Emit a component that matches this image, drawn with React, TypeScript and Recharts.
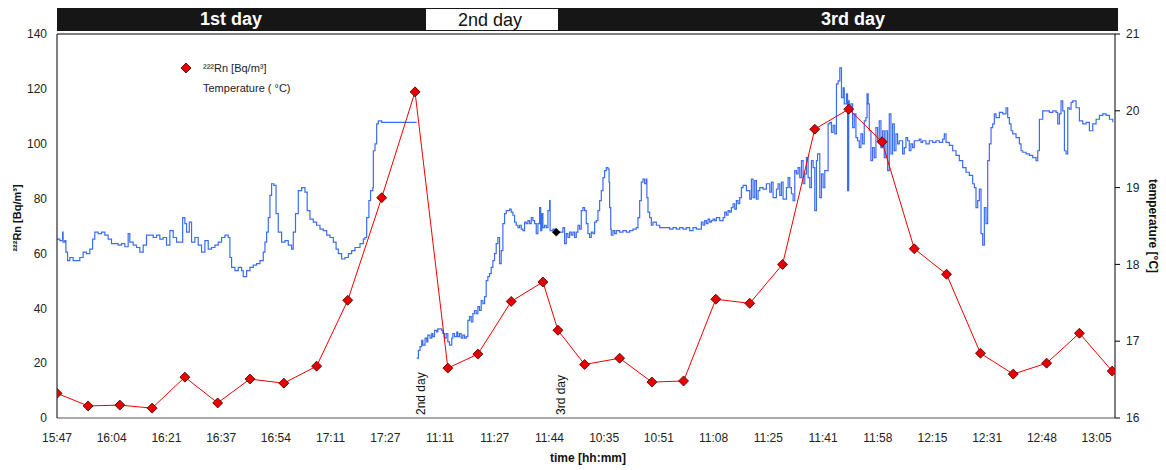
import React from 'react';
import { ComposedChart, Line, XAxis, YAxis, ReferenceLine } from 'recharts';

const FONT = '"Liberation Sans", Arial, sans-serif';

const xTickLabels = ['15:47', '16:04', '16:21', '16:37', '16:54', '17:11', '17:27', '11:11', '11:27', '11:44', '10:35', '10:51', '11:08', '11:25', '11:41', '11:58', '12:15', '12:31', '12:48', '13:05'];
const xTickPositions = [0, 0.984, 1.968, 2.953, 3.937, 4.921, 5.905, 6.889, 7.873, 8.858, 9.842, 10.826, 11.81, 12.794, 13.779, 14.763, 15.747, 16.731, 17.715, 18.699];
const xDomain = [0, 19.03];

const leftTicks = [0, 20, 40, 60, 80, 100, 120, 140];
const rightTicks = [16, 17, 18, 19, 20, 21];

const dayBanner = [
  { label: '1st day', dark: true },
  { label: '2nd day', dark: false },
  { label: '3rd day', dark: true },
];
const dayMarks = [
  { x: 6.54, label: '2nd day' },
  { x: 9.06, label: '3rd day' },
];

const rnTime = [0, 0.56, 1.13, 1.71, 2.3, 2.89, 3.47, 4.08, 4.67, 5.23, 5.84, 6.44, 7.03, 7.57, 8.17, 8.74, 9.01, 9.49, 10.12, 10.7, 11.27, 11.85, 12.46, 13.05, 13.63, 14.24, 14.84, 15.42, 16.0, 16.61, 17.2, 17.8, 18.39, 18.98];
const rnValues = [9, 4.4, 4.7, 3.6, 14.9, 5.5, 14.2, 12.7, 18.9, 42.9, 80.3, 118.9, 18.2, 23.3, 42.5, 49.6, 32, 19.5, 21.8, 13.1, 13.5, 43.3, 41.8, 56, 105.3, 112.6, 100.7, 61.7, 52.4, 23.6, 16, 20, 30.9, 17.1];

const tempDay1: [number, number][] = [
  [0.0, 18.33], [0.05, 18.31], [0.1, 18.42], [0.11, 18.29], [0.14, 18.31], [0.16, 18.16], [0.19, 18.05], [0.23, 18.09],
  [0.29, 18.05], [0.35, 18.05], [0.41, 18.09], [0.47, 18.16], [0.53, 18.14], [0.59, 18.2], [0.64, 18.33], [0.68, 18.42],
  [0.74, 18.4], [0.8, 18.42], [0.86, 18.38], [0.92, 18.33], [0.98, 18.27], [1.04, 18.27], [1.1, 18.25], [1.16, 18.27],
  [1.22, 18.23], [1.28, 18.4], [1.31, 18.29], [1.37, 18.25], [1.43, 18.22], [1.49, 18.16], [1.55, 18.25], [1.61, 18.38],
  [1.67, 18.38], [1.73, 18.35], [1.79, 18.38], [1.85, 18.33], [1.91, 18.35], [1.97, 18.25], [2.03, 18.44], [2.09, 18.35],
  [2.15, 18.29], [2.21, 18.29], [2.26, 18.61], [2.3, 18.53], [2.33, 18.42], [2.38, 18.55], [2.42, 18.29], [2.48, 18.35],
  [2.54, 18.25], [2.6, 18.16], [2.66, 18.31], [2.72, 18.2], [2.78, 18.22], [2.84, 18.25], [2.9, 18.29], [2.96, 18.35],
  [3.02, 18.38], [3.08, 18.35], [3.11, 18.09], [3.14, 17.96], [3.2, 17.92], [3.26, 17.96], [3.32, 17.92], [3.35, 17.84],
  [3.41, 17.92], [3.47, 17.96], [3.53, 17.99], [3.59, 18.01], [3.65, 18.05], [3.71, 18.16], [3.74, 18.29], [3.77, 18.42],
  [3.8, 18.61], [3.83, 18.9], [3.86, 19.05], [3.9, 19.03], [3.94, 18.66], [3.98, 18.42], [4.04, 18.29], [4.1, 18.31],
  [4.16, 18.25], [4.22, 18.2], [4.25, 18.42], [4.29, 18.66], [4.34, 18.96], [4.4, 19.0], [4.46, 18.94], [4.5, 18.7],
  [4.55, 18.59], [4.61, 18.55], [4.67, 18.51], [4.73, 18.46], [4.79, 18.44], [4.85, 18.38], [4.91, 18.35], [4.97, 18.29],
  [5.02, 18.2], [5.06, 18.14], [5.12, 18.07], [5.18, 18.09], [5.24, 18.14], [5.3, 18.18], [5.36, 18.22], [5.45, 18.27],
  [5.51, 18.33], [5.54, 18.35], [5.57, 18.61], [5.61, 18.83], [5.64, 18.96], [5.68, 19.0], [5.69, 19.48], [5.72, 19.57],
  [5.75, 19.83], [5.78, 19.87], [5.84, 19.85], [5.9, 19.85], [6.47, 19.85],
];

const tempDay23: [number, number][] = [
  [6.47, 16.78], [6.5, 16.88], [6.53, 16.93], [6.56, 17.01], [6.58, 16.95], [6.62, 17.04], [6.65, 16.99], [6.67, 17.08],
  [6.71, 17.04], [6.74, 17.1], [6.76, 17.06], [6.79, 17.14], [6.83, 17.12], [6.85, 17.16], [6.92, 17.14], [6.94, 17.1],
  [6.97, 17.04], [7.0, 17.1], [7.03, 16.99], [7.06, 16.95], [7.1, 17.04], [7.12, 17.1], [7.15, 17.06], [7.19, 17.12],
  [7.21, 17.06], [7.24, 17.1], [7.27, 17.04], [7.3, 17.08], [7.33, 17.04], [7.36, 17.06], [7.39, 17.27], [7.42, 17.32],
  [7.45, 17.25], [7.48, 17.36], [7.51, 17.4], [7.54, 17.36], [7.57, 17.45], [7.6, 17.4], [7.63, 17.53], [7.66, 17.49],
  [7.69, 17.58], [7.72, 17.79], [7.75, 17.84], [7.78, 17.88], [7.81, 17.96], [7.84, 18.05], [7.87, 18.14], [7.9, 18.27],
  [7.93, 18.35], [7.96, 18.01], [7.99, 18.18], [8.02, 18.53], [8.05, 18.66], [8.08, 18.7], [8.14, 18.72], [8.17, 18.68],
  [8.2, 18.64], [8.23, 18.55], [8.26, 18.51], [8.29, 18.48], [8.32, 18.51], [8.35, 18.46], [8.38, 18.44], [8.41, 18.55],
  [8.44, 18.53], [8.47, 18.57], [8.5, 18.53], [8.53, 18.61], [8.56, 18.57], [8.59, 18.53], [8.62, 18.4], [8.65, 18.53],
  [8.68, 18.74], [8.7, 18.44], [8.72, 18.66], [8.74, 18.48], [8.77, 18.51], [8.8, 18.48], [8.83, 18.7], [8.86, 18.83],
  [8.87, 18.44], [8.92, 18.46], [8.98, 18.42], [9.04, 18.42], [9.1, 18.48], [9.13, 18.27], [9.16, 18.4], [9.19, 18.35],
  [9.22, 18.42], [9.25, 18.38], [9.28, 18.42], [9.31, 18.35], [9.34, 18.42], [9.37, 18.51], [9.4, 18.46], [9.43, 18.7],
  [9.46, 18.74], [9.49, 18.7], [9.52, 18.53], [9.55, 18.4], [9.58, 18.35], [9.61, 18.42], [9.64, 18.4], [9.67, 18.55],
  [9.7, 18.57], [9.73, 18.7], [9.76, 18.83], [9.79, 18.96], [9.82, 19.13], [9.85, 19.22], [9.88, 19.26], [9.91, 19.24],
  [9.93, 19.07], [9.94, 18.74], [9.96, 18.46], [9.97, 18.38], [10.0, 18.44], [10.03, 18.4], [10.06, 18.44], [10.12, 18.42],
  [10.18, 18.44], [10.24, 18.42], [10.3, 18.44], [10.36, 18.46], [10.42, 18.48], [10.45, 18.61], [10.48, 18.83], [10.51, 19.07],
  [10.54, 19.11], [10.57, 19.05], [10.6, 19.11], [10.61, 18.87], [10.63, 18.68], [10.66, 18.61], [10.69, 18.51], [10.72, 18.55],
  [10.78, 18.51], [10.84, 18.48], [10.9, 18.48], [10.96, 18.48], [11.02, 18.46], [11.08, 18.48], [11.14, 18.46], [11.2, 18.48],
  [11.26, 18.46], [11.32, 18.48], [11.38, 18.44], [11.44, 18.48], [11.5, 18.46], [11.56, 18.46], [11.59, 18.55], [11.62, 18.51],
  [11.65, 18.57], [11.68, 18.53], [11.71, 18.59], [11.74, 18.55], [11.77, 18.57], [11.8, 18.59], [11.83, 18.57], [11.86, 18.61],
  [11.92, 18.57], [11.98, 18.61], [12.01, 18.68], [12.04, 18.64], [12.07, 18.7], [12.1, 18.68], [12.13, 18.74], [12.16, 18.79],
  [12.19, 18.72], [12.22, 18.83], [12.25, 18.79], [12.28, 18.87], [12.31, 19.0], [12.34, 19.03], [12.4, 18.96], [12.46, 18.85],
  [12.49, 19.11], [12.52, 18.87], [12.55, 19.09], [12.58, 18.85], [12.61, 18.96], [12.64, 19.0], [12.7, 18.98], [12.76, 19.05],
  [12.82, 18.94], [12.85, 19.07], [12.88, 18.87], [12.94, 18.98], [12.97, 19.05], [13.0, 18.9], [13.03, 19.07], [13.06, 18.85],
  [13.12, 19.0], [13.15, 19.13], [13.18, 19.0], [13.21, 18.92], [13.24, 18.83], [13.27, 19.22], [13.3, 19.18], [13.33, 19.26],
  [13.36, 19.13], [13.39, 19.35], [13.42, 19.05], [13.45, 19.18], [13.48, 19.39], [13.51, 19.13], [13.54, 19.0], [13.57, 19.35],
  [13.6, 19.26], [13.63, 18.7], [13.66, 19.35], [13.68, 19.44], [13.72, 18.87], [13.75, 19.18], [13.78, 19.0], [13.81, 19.22],
  [13.84, 19.22], [13.87, 19.83], [13.9, 19.85], [13.93, 19.72], [13.96, 19.81], [13.99, 19.7], [14.02, 20.35], [14.05, 20.39],
  [14.08, 20.56], [14.11, 20.17], [14.14, 20.3], [14.16, 20.09], [14.2, 20.22], [14.22, 18.96], [14.24, 20.13], [14.25, 20.04],
  [14.28, 20.09], [14.31, 19.78], [14.34, 19.96], [14.37, 19.65], [14.4, 19.61], [14.43, 19.52], [14.46, 19.7], [14.49, 19.57],
  [14.52, 19.87], [14.55, 19.91], [14.57, 20.22], [14.59, 20.09], [14.61, 19.74], [14.64, 19.35], [14.67, 19.52], [14.7, 19.39],
  [14.73, 19.78], [14.76, 19.61], [14.79, 19.87], [14.82, 19.52], [14.85, 19.74], [14.88, 19.39], [14.91, 19.74], [14.94, 19.22],
  [14.97, 19.96], [15.0, 19.44], [15.03, 19.83], [15.06, 19.48], [15.09, 19.7], [15.12, 19.57], [15.15, 19.61], [15.21, 19.44],
  [15.24, 19.52], [15.27, 19.65], [15.3, 19.61], [15.33, 19.48], [15.36, 19.57], [15.39, 19.52], [15.42, 19.61], [15.45, 19.61],
  [15.51, 19.63], [15.54, 19.59], [15.57, 19.61], [15.63, 19.57], [15.69, 19.61], [15.75, 19.59], [15.81, 19.61], [15.87, 19.59],
  [15.93, 19.63], [15.96, 19.7], [15.99, 19.59], [16.05, 19.55], [16.11, 19.48], [16.17, 19.42], [16.23, 19.35], [16.29, 19.26],
  [16.35, 19.2], [16.41, 19.16], [16.47, 19.05], [16.5, 19.0], [16.53, 18.74], [16.56, 18.83], [16.59, 18.98], [16.62, 18.4],
  [16.65, 18.25], [16.68, 18.74], [16.71, 18.53], [16.74, 19.35], [16.77, 19.57], [16.8, 19.78], [16.83, 19.83], [16.86, 19.96],
  [16.89, 19.91], [16.95, 19.98], [17.01, 19.96], [17.07, 20.04], [17.1, 19.91], [17.13, 19.83], [17.16, 19.74], [17.19, 19.7],
  [17.25, 19.65], [17.31, 19.57], [17.34, 19.48], [17.37, 19.46], [17.43, 19.44], [17.49, 19.42], [17.55, 19.39], [17.61, 19.35],
  [17.64, 19.48], [17.67, 19.89], [17.73, 20.0], [17.79, 20.0], [17.85, 19.98], [17.91, 20.0], [17.97, 19.98], [18.0, 19.83],
  [18.03, 19.96], [18.06, 20.13], [18.09, 20.0], [18.12, 19.48], [18.15, 19.44], [18.18, 20.04], [18.21, 20.02], [18.24, 20.11],
  [18.27, 20.13], [18.33, 20.04], [18.39, 19.87], [18.45, 19.83], [18.51, 19.85], [18.57, 19.74], [18.63, 19.83], [18.69, 19.89],
  [18.75, 19.94], [18.81, 19.96], [18.87, 19.94], [18.93, 19.89], [18.99, 19.85],
];

const markerPoint: [number, number][] = [[8.98, 18.42]];

const rnData = rnTime.map((x, i) => ({ x, rn: rnValues[i] }));
const tempData1 = tempDay1.map(([x, t]) => ({ x, temp: t }));
const tempData23 = tempDay23.map(([x, t]) => ({ x, temp: t }));
const markerData = markerPoint.map(([x, t]) => ({ x, temp: t }));

const RED = '#F00000';
const BLUE = '#3C6CF4';

const RedDiamond = (props: any) => {
  const { cx, cy, index } = props;
  if (cx == null || cy == null) return <g key={`rd-${index}`} />;
  const r = 5;
  return (
    <polygon
      key={`rd-${index}`}
      points={`${cx},${cy - r} ${cx + r},${cy} ${cx},${cy + r} ${cx - r},${cy}`}
      fill="#E60000"
      stroke="#3a0000"
      strokeWidth={0.8}
    />
  );
};

const BlackDiamond = (props: any) => {
  const { cx, cy, index } = props;
  if (cx == null || cy == null) return <g key={`bd-${index}`} />;
  const r = 4;
  return (
    <polygon
      key={`bd-${index}`}
      points={`${cx},${cy - r} ${cx + r},${cy} ${cx},${cy + r} ${cx - r},${cy}`}
      fill="#000"
      stroke="#000"
      strokeWidth={0.5}
    />
  );
};

const LeftAxisTitle = () => (
  <text
    x={17}
    y={218}
    transform="rotate(-90 17 218)"
    textAnchor="middle"
    dominantBaseline="central"
    fontSize={11}
    fontWeight="bold"
    fill="#111"
    fontFamily={FONT}
  >
    ²²²Rn [Bq/m³]
  </text>
);

const RightAxisTitle = () => (
  <text
    x={1153}
    y={226}
    transform="rotate(90 1153 226)"
    textAnchor="middle"
    dominantBaseline="central"
    fontSize={12}
    fontWeight="bold"
    fill="#111"
    fontFamily={FONT}
  >
    temperature [°C]
  </text>
);

const XAxisTitle = () => (
  <text x={588} y={462} textAnchor="middle" fontSize={12} fontWeight="bold" fill="#111" fontFamily={FONT}>
    time [hh:mm]
  </text>
);

const makeDayMarkLabel = (text: string) => (props: any) => {
  const vb = props.viewBox || {};
  const tx = (vb.x ?? 0) + 4.5;
  const ty = (vb.y ?? 0) + (vb.height ?? 0) - 3;
  return (
    <text
      x={tx}
      y={ty}
      transform={`rotate(-90 ${tx} ${ty})`}
      textAnchor="start"
      fontSize={12}
      fill="#111"
      fontFamily={FONT}
    >
      {text}
    </text>
  );
};

const bannerBoxes = [
  { left: 57, width: 368, center: 231 },
  { left: 425, width: 134, center: 489 },
  { left: 559, width: 559, center: 853 },
];

export default function App() {
  return (
    <div style={{ position: 'absolute', left: 0, top: 0, width: 1166, height: 470, background: '#fff', fontFamily: FONT }}>
      {dayBanner.map((d, i) => {
        const b = bannerBoxes[i];
        return (
          <div
            key={d.label}
            style={{
              position: 'absolute',
              left: b.left,
              top: 8,
              width: b.width,
              height: 23,
              boxSizing: 'border-box',
              background: d.dark ? '#161616' : '#fff',
              border: d.dark ? 'none' : '1px solid #161616',
            }}
          >
            <span
              style={{
                position: 'absolute',
                left: b.center - b.left,
                top: 11,
                transform: 'translate(-50%, -50%)',
                whiteSpace: 'nowrap',
                fontSize: 18,
                fontWeight: d.dark ? 'bold' : 'normal',
                color: d.dark ? '#fff' : '#111',
                lineHeight: '20px',
              }}
            >
              {d.label}
            </span>
          </div>
        );
      })}
      <ComposedChart width={1166} height={470} margin={{ top: 34, right: 6, bottom: 7, left: 7 }} style={{ position: 'absolute', left: 0, top: 0 }}>
        <XAxis
          type="number"
          dataKey="x"
          domain={xDomain}
          allowDataOverflow
          ticks={xTickPositions}
          interval={0}
          tickFormatter={(v: number, i: number) => xTickLabels[i] ?? ''}
          height={45}
          tickLine={false}
          tickSize={0}
          tickMargin={15}
          axisLine={{ stroke: '#555', strokeWidth: 1.2 }}
          tick={{ fontSize: 12, fill: '#222', fontFamily: FONT }}
          label={XAxisTitle}
        />
        <YAxis
          yAxisId="left"
          domain={[0, 140]}
          ticks={leftTicks}
          interval={0}
          width={50}
          tickLine={false}
          tickSize={0}
          tickMargin={10}
          axisLine={{ stroke: '#000', strokeWidth: 1 }}
          tick={{ fontSize: 12, fill: '#222', fontFamily: FONT }}
          label={LeftAxisTitle}
        />
        <YAxis
          yAxisId="right"
          orientation="right"
          domain={[16, 21]}
          ticks={rightTicks}
          interval={0}
          width={45}
          tickSize={5}
          tickMargin={6}
          tickLine={{ stroke: '#000' }}
          axisLine={{ stroke: '#000', strokeWidth: 1 }}
          tick={{ fontSize: 12, fill: '#222', fontFamily: FONT }}
          label={RightAxisTitle}
        />
        <ReferenceLine yAxisId="left" y={140} stroke="#000" strokeWidth={1} />
        {dayMarks.map((m) => (
          <ReferenceLine key={m.label} yAxisId="left" x={m.x} stroke="none" label={makeDayMarkLabel(m.label)} />
        ))}
        <Line
          yAxisId="right"
          data={tempData1}
          dataKey="temp"
          type="stepAfter"
          stroke={BLUE}
          strokeWidth={1.2}
          dot={false}
          activeDot={false}
          isAnimationActive={false}
        />
        <Line
          yAxisId="right"
          data={tempData23}
          dataKey="temp"
          type="stepAfter"
          stroke={BLUE}
          strokeWidth={1.2}
          dot={false}
          activeDot={false}
          isAnimationActive={false}
        />
        <Line
          yAxisId="right"
          data={markerData}
          dataKey="temp"
          stroke="none"
          dot={BlackDiamond}
          activeDot={false}
          isAnimationActive={false}
        />
        <Line
          yAxisId="left"
          data={rnData}
          dataKey="rn"
          type="linear"
          stroke={RED}
          strokeWidth={1}
          dot={RedDiamond}
          activeDot={false}
          isAnimationActive={false}
        />
      </ComposedChart>
      <div style={{ position: 'absolute', left: 179, top: 61, fontSize: 11, color: '#222', lineHeight: '14px' }}>
        <div style={{ display: 'flex', alignItems: 'center', height: 14 }}>
          <svg width={14} height={14} style={{ marginRight: 10 }}>
            <polygon points="7,2 12,7 7,12 2,7" fill="#E60000" stroke="#3a0000" strokeWidth={0.8} />
          </svg>
          <span>²²²Rn [Bq/m³]</span>
        </div>
        <div style={{ height: 6 }} />
        <div style={{ display: 'flex', alignItems: 'center', height: 14 }}>
          <span style={{ width: 24 }} />
          <span>Temperature ( °C)</span>
        </div>
      </div>
    </div>
  );
}
